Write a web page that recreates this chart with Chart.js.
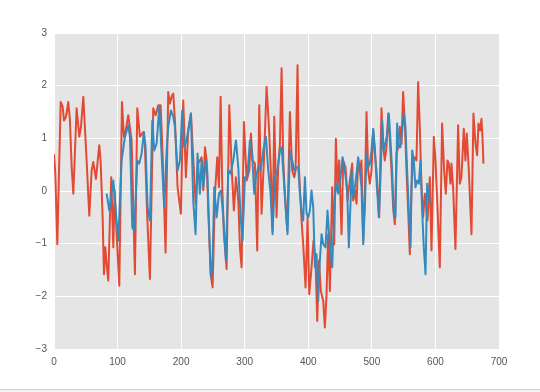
<!DOCTYPE html>
<html>
<head>
<meta charset="utf-8">
<script src="https://cdn.jsdelivr.net/npm/chart.js@4/dist/chart.umd.min.js"></script>
<style>
  html, body { margin: 0; padding: 0; background: #ffffff; }
  #wrap { position: relative; width: 540px; height: 392px; }
  canvas { display: block; }
</style>
</head>
<body>
<div id="wrap"><canvas id="c" width="540" height="392"></canvas></div>
<script>
// ---- data ----
const xTicks = [0, 100, 200, 300, 400, 500, 600, 700];
const yTicks = [-3, -2, -1, 0, 1, 2, 3];

const redX = [0, 2, 5.2, 10.5, 13.6, 15.7, 18.9, 22.5, 25.1, 27.8, 30.4, 35.6, 39.8, 42.4, 46.1, 51.3, 55.5, 59.2, 61.8, 66.0, 71.2, 73.3, 76.5, 78.6, 80.7, 82.8, 85.4, 88.0, 90.1, 93.3, 95.4, 98.5, 102.7, 106.9, 110.0,
  111.6, 116.8, 122.1, 127.3, 131.0, 135.2, 140.4, 143.0, 146.7, 150.9, 156.1, 159.8, 164.0, 167.7, 170.8, 175.5, 179.7, 182.3, 185.0, 187.6, 190.2, 194.4, 199.6, 203.3, 207.5, 211.2, 215.4, 219.0, 222.7, 226.9,
  232.2, 234.8, 237.5, 240.1, 242.7, 246.4, 249.5, 253.2, 256.8, 259.5, 262.1, 264.7, 267.3, 271.5, 275.7, 279.4, 283.0, 286.2, 289.9, 292.5, 295.1, 298.8, 303.0, 307.2, 309.8, 312.4, 316.1, 319.7, 322.9, 326.5, 330.2, 334.4, 338.1, 341.2, 343.8, 346.5,
  350.1, 352.7, 355.4, 358.0, 360.6, 363.2, 366.9, 371.1, 374.7, 377.9, 380.0, 383.1, 385.2, 389.4, 392.0, 395.7, 398.9, 401.5, 405.1, 408.3, 411.4, 414.1, 416.7, 419.8, 423.5, 426.1, 428.7, 431.3, 434.0, 437.6, 440.8, 443.4, 446.0, 448.6, 452.3, 454.9, 458.6, 461.7, 465.4, 469.1,
  470.6, 473.3, 475.9, 478.5, 481.1, 483.7, 486.4, 489.0, 491.6, 494.2, 496.8, 499.5, 502.1, 504.7, 507.3, 511.5, 515.2, 517.8, 520.4, 523.0, 525.7, 528.3, 530.9, 533.5, 536.1, 538.8, 541.4, 544.0, 546.6, 549.2, 551.9, 554.5, 557.1, 559.7, 562.3, 565.0, 567.6, 570.2, 572.8, 575.4, 578.1, 580.7, 583.3, 587.5,
  591.2, 593.8, 597.5, 600.1, 603.2, 606.9, 610.5, 613.7, 616.3, 618.9, 621.0, 623.6, 625.2, 627.8, 631.5, 635.7, 638.3, 640.9, 644.6, 647.2, 649.3, 652.5, 656.7, 659.8, 663.0, 665.6, 667.7, 670.3, 672.4, 674.0, 675.5];
const redY = [0.70, 0.35, -1.01, 1.69, 1.60, 1.34, 1.41, 1.69, 1.34, 0.45, -0.05, 1.57, 1.03, 1.22, 1.79, 0.58, -0.47, 0.39, 0.55, 0.23, 0.87, 0.58, -0.50, -1.58, -1.07, -1.39, -1.70, -0.50, 0.26, -1.07, 0.01, -0.82, -1.80, 1.69, 1.03,
  1.06, 1.44, 0.96, -1.58, 1.57, 1.03, 1.12, 0.83, -0.50, -1.67, 1.57, 1.44, 1.63, 1.63, 0.71, -1.17, 1.88, 1.66, 1.79, 1.85, 1.34, 0.07, -0.43, 1.72, 0.26, 1.15, 1.47, 0.64, -0.24, 0.52,
  0.64, 0.01, 0.83, 0.58, -0.37, -1.58, -1.83, -0.05, 0.64, 0.07, 1.79, 0.07, -0.82, -1.48, 1.63, 0.45, -0.37, 0.26, -0.18, -1.07, -1.45, 1.31, 0.20, 0.39, 1.09, 0.58, 0.52, -1.13, 1.63, -0.43, 0.58, 1.98, 1.22, 0.33, -0.75, 1.41,
  -0.50, 0.45, 0.90, 2.33, 0.58, -0.05, -0.75, 1.50, 0.39, 0.26, 0.39, 2.39, 0.45, -0.56, -1.01, -1.83, -0.50, -1.96, -1.45, -0.94, -1.32, -2.47, -1.32, -1.90, -2.09, -2.59, -1.96, -0.82, -1.90, 0.07, -1.01, 0.99, 0.07, 0.58, -0.82, 0.58, 0.45, -0.18, 0.20, 0.52,
  -0.18, 0.01, -0.24, 0.58, 0.39, 0.58, -0.94, -0.05, 1.50, 0.39, 0.14, 0.39, 1.15, 0.71, 0.39, -0.50, 1.57, 0.83, 0.58, 0.83, 1.47, 0.96, 0.39, -0.31, -0.63, 0.71, 0.83, 1.22, 0.90, 1.88, 1.28, 0.39, -0.37, -1.20, 0.07, 0.58, 0.64, 0.58, 2.07, 1.22, 0.07, -0.50, -0.05, -0.56,
  0.26, -1.13, 1.03, 0.58, -0.31, -1.45, 1.28, 0.39, -0.05, 0.58, 0.52, 0.14, 0.52, 0.07, -1.10, 1.25, 0.14, 0.26, 1.18, 0.58, 1.09, 0.39, -0.82, 1.47, 0.90, 0.68, 1.28, 1.15, 1.37, 1.03, 0.52];

const blueX = [82.8, 87.0, 93.3, 101.1, 106.4, 111.6,
  116.8, 119.5, 123.1, 126.3, 131.0, 134.1, 137.8, 141.5, 144.1, 147.2, 150.9, 154.6, 157.7, 161.4, 165.6, 169.2, 173.4, 177.1, 179.7, 183.9, 187.6, 190.2, 194.4, 198.1, 201.7, 204.9, 208.5, 212.2, 215.4, 219.0, 222.7, 225.8, 229.5,
  232.2, 234.8, 239.0, 241.1, 244.3, 246.9, 249.5, 252.1, 255.8, 259.5, 262.6, 266.3, 270.5, 274.1, 277.8, 282.0, 286.2, 289.9, 293.5, 296.7, 300.3, 304.0, 308.2, 311.3, 315.0, 317.6, 321.3, 325.0, 329.2, 333.4, 337.0, 340.7, 343.8, 347.5, 351.2,
  352.7, 355.4, 358.0, 360.6, 364.3, 367.4, 371.1, 374.7, 377.9, 381.6, 384.2, 386.8, 389.4, 392.0, 394.7, 397.3, 399.9, 402.5, 405.1, 407.8, 410.4, 413.0, 415.6, 418.2, 420.9, 423.5, 427.1, 430.3, 434.0, 437.6, 440.8, 443.4, 447.1, 450.7, 453.9, 457.5, 461.2, 463.8, 467.0,
  468.0, 470.6, 473.3, 475.9, 478.5, 481.1, 483.7, 486.4, 489.0, 491.6, 494.2, 496.8, 499.5, 502.1, 504.7, 507.3, 511.0, 513.6, 516.2, 518.8, 521.5, 524.1, 526.7, 529.3, 531.9, 534.6, 537.2, 539.8, 542.4, 545.0, 547.7, 550.3, 552.9, 555.5, 558.1, 560.8, 563.4, 566.0, 568.6, 571.2, 573.9, 576.5, 579.1, 581.7, 584.4, 587.0, 589.6, 591.2];
const blueY = [-0.05, -0.37, 0.20, -0.94, 0.58, 1.03,
  1.25, 1.03, -0.69, -0.75, 0.58, 0.52, 0.71, 1.12, 0.83, -0.31, -0.56, 1.34, 0.77, 0.90, 1.60, 0.71, -0.31, 0.77, 1.22, 1.53, 1.41, 1.22, 0.39, 0.58, 1.53, 0.83, 0.96, 1.22, 1.47, -0.18, -0.82, 0.71, -0.05,
  0.58, 0.07, 0.58, 0.39, -0.82, -1.64, -1.32, 0.07, -0.50, -0.05, 0.01, -0.50, -1.32, 0.39, 0.33, 0.58, 0.96, 0.45, -0.50, -0.94, 0.26, 0.26, 0.96, 0.77, -0.05, 0.26, 0.45, 0.39, 0.77, 1.03, 0.39, -0.05, -0.82, 0.26, 0.39,
  0.52, 0.77, 0.83, 0.39, -0.31, -0.82, 0.77, 0.58, 0.39, 0.45, 0.45, -0.05, -0.37, -0.56, 0.26, -0.43, -0.50, -0.37, 0.01, -0.31, -1.45, -1.20, -2.09, -1.32, -0.82, -1.01, -1.07, -0.37, -1.07, -1.45, -0.37, 0.14, -0.05, 0.26, 0.64, 0.39, 0.01, -1.07, -0.05,
  0.39, -0.12, 0.07, 0.33, 0.64, 0.39, 0.07, -1.01, -0.31, 0.71, 0.45, 0.52, 0.77, 1.18, 0.83, 0.20, -0.50, 0.26, 1.34, 0.77, 0.90, 1.09, 1.47, 0.96, 0.39, -0.43, -0.50, 1.28, 0.83, 0.83, 1.15, 1.47, 1.22, 0.39, -0.37, -1.07, 0.77, 0.58, 0.07, 0.20, 0.14, 0.58, -0.37, -1.07, -1.58, 0.14, -0.05, -0.24];

// ---- build datasets ----
const toPts = (xs, ys) => xs.map((x, i) => ({ x: x, y: ys[i] }));

const bgPlugin = {
  id: 'bg',
  beforeDraw(chart) {
    const { ctx, chartArea: a } = chart;
    ctx.save();
    ctx.fillStyle = '#ffffff';
    ctx.fillRect(0, 0, chart.width, chart.height);
    ctx.fillStyle = '#E5E5E5';
    ctx.fillRect(a.left, a.top, a.right - a.left, a.bottom - a.top);
    ctx.restore();
  },
  afterDraw(chart) {
    const ctx = chart.ctx;
    ctx.save();
    ctx.fillStyle = '#f3f3f3';
    ctx.fillRect(0, 390, chart.width, 2);
    ctx.fillStyle = '#cfcfcf';
    ctx.fillRect(0, 389, chart.width, 1);
    ctx.restore();
  }
};

const minus = v => (v < 0 ? '\u2212' + Math.abs(v) : String(v));
const tickFont = { family: '"Liberation Sans", Arial, sans-serif', size: 10 };

new Chart(document.getElementById('c'), {
  type: 'line',
  data: {
    datasets: [
      { data: toPts(redX, redY), borderColor: '#E24A33', borderWidth: 2, order: 2 },
      { data: toPts(blueX, blueY), borderColor: '#348ABD', borderWidth: 2, order: 1 }
    ]
  },
  options: {
    responsive: false,
    animation: false,
    devicePixelRatio: 1,
    parsing: true,
    elements: {
      point: { radius: 0 },
      line: { tension: 0, borderJoinStyle: 'round', borderCapStyle: 'butt', fill: false }
    },
    layout: { padding: { top: 33, right: 41, left: 0, bottom: 0 } },
    plugins: { legend: { display: false }, tooltip: { enabled: false } },
    scales: {
      x: {
        type: 'linear',
        min: xTicks[0], max: xTicks[xTicks.length - 1],
        afterBuildTicks: s => { s.ticks = xTicks.map(v => ({ value: v })); },
        afterFit: s => { s.height = 43; },
        grid: { color: '#ffffff', lineWidth: 1, drawTicks: false },
        border: { display: false },
        ticks: { padding: 7, color: '#555555', font: tickFont, callback: minus, maxRotation: 0 }
      },
      y: {
        type: 'linear',
        min: yTicks[0], max: yTicks[yTicks.length - 1],
        afterBuildTicks: s => { s.ticks = yTicks.map(v => ({ value: v })); },
        afterFit: s => { s.width = 54; },
        grid: { color: '#ffffff', lineWidth: 1, drawTicks: false },
        border: { display: false },
        ticks: { padding: 7, color: '#555555', font: tickFont, callback: minus }
      }
    }
  },
  plugins: [bgPlugin]
});
</script>
</body>
</html>
